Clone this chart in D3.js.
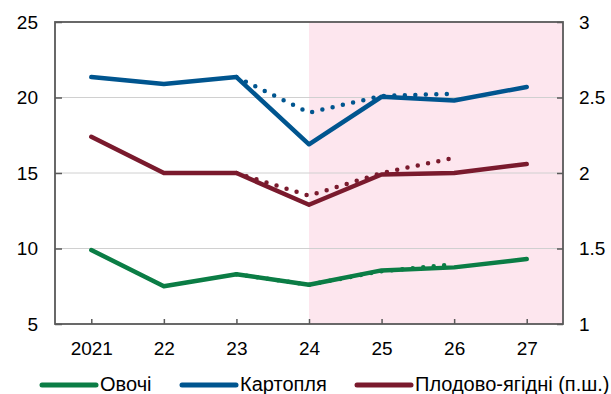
<!DOCTYPE html>
<html>
<head>
<meta charset="utf-8">
<script src="https://cdn.jsdelivr.net/npm/d3@7"></script>
<style>
body { margin: 0; background: #fff; }
svg text { font-family: "Liberation Sans", Arial, sans-serif; fill: #000; }
</style>
</head>
<body>
<svg width="611" height="394"></svg>
<script>
var years = ["2021", "22", "23", "24", "25", "26", "27"];

// left axis
var vegetables = [9.9, 7.5, 8.3, 7.6, 8.55, 8.75, 9.3];
var potatoes = [21.35, 20.9, 21.35, 16.9, 20.05, 19.8, 20.7];
// right axis (п.ш.)
var fruits = [2.24, 2.0, 2.0, 1.79, 1.99, 2.0, 2.06];

// previous forecast (dotted), years 23..26
var prevYears = ["23", "24", "25", "26"];
var vegetablesPrev = [8.3, 7.6, 8.5, 8.95];
var potatoesPrev = [21.35, 19.0, 20.1, 20.25];
var fruitsPrev = [2.0, 1.85, 2.0, 2.1];

var leftTicks = [5, 10, 15, 20, 25];
var rightTicks = [1, 1.5, 2, 2.5, 3];
var forecastFrom = "24";

var svg = d3.select("svg"),
  margin = {top: 22, right: 48, bottom: 70, left: 55},
  width = +svg.attr("width") - margin.left - margin.right,
  height = +svg.attr("height") - margin.top - margin.bottom;

var g = svg.append("g").attr("transform", "translate(" + margin.left + "," + margin.top + ")");

var x = d3.scalePoint().domain(years).range([0, width]).padding(0.5);
var yL = d3.scaleLinear().domain([5, 25]).range([height, 0]);
var yR = d3.scaleLinear().domain([1, 3]).range([height, 0]);

// forecast shading
g.append("rect")
  .attr("x", x(forecastFrom))
  .attr("y", 0)
  .attr("width", width - x(forecastFrom))
  .attr("height", height)
  .attr("fill", "#fde6ee");

// grid
g.selectAll(".grid")
  .data(leftTicks.slice(1, -1))
  .enter().append("line")
  .attr("x1", 0).attr("x2", width)
  .attr("y1", d => yL(d)).attr("y2", d => yL(d))
  .attr("stroke", "#d0d0d0").attr("stroke-width", 1);

// axes
var axisL = g.append("g").call(d3.axisLeft(yL).tickValues(leftTicks).tickSize(-7).tickPadding(17));
var axisR = g.append("g").attr("transform", "translate(" + width + ",0)")
  .call(d3.axisRight(yR).tickValues(rightTicks).tickSize(-6).tickPadding(16).tickFormat(d3.format("")));
var axisB = g.append("g").attr("transform", "translate(0," + height + ")")
  .call(d3.axisBottom(x).tickSize(-5).tickPadding(18));

[axisL, axisR, axisB].forEach(function(a) {
  a.select(".domain").remove();
  a.selectAll("line").attr("stroke", "#595959").attr("stroke-width", 1.5);
  a.selectAll("text").style("font-size", "19px").attr("fill", "#000");
});
axisR.selectAll("text").attr("text-anchor", "start");

// frame
g.append("rect")
  .attr("width", width).attr("height", height)
  .attr("fill", "none").attr("stroke", "#595959").attr("stroke-width", 1.8);

var lineL = d3.line().x((d, i) => x(years[i])).y(d => yL(d));
var lineR = d3.line().x((d, i) => x(years[i])).y(d => yR(d));
var lineLp = d3.line().x((d, i) => x(prevYears[i])).y(d => yL(d));
var lineRp = d3.line().x((d, i) => x(prevYears[i])).y(d => yR(d));

var colGreen = "#0b7d45", colBlue = "#00558f", colRed = "#7a1a2d";

function dotted(data, gen, col) {
  g.append("path").datum(data)
    .attr("d", gen).attr("fill", "none")
    .attr("stroke", col).attr("stroke-width", 4.5)
    .attr("stroke-linecap", "round")
    .attr("stroke-dasharray", "0 10.5");
}
function solid(data, gen, col) {
  g.append("path").datum(data)
    .attr("d", gen).attr("fill", "none")
    .attr("stroke", col).attr("stroke-width", 4.5)
    .attr("stroke-linejoin", "round")
    .attr("stroke-linecap", "round");
}

dotted(vegetablesPrev, lineLp, colGreen);
dotted(potatoesPrev, lineLp, colBlue);
dotted(fruitsPrev, lineRp, colRed);
solid(vegetables, lineL, colGreen);
solid(potatoes, lineL, colBlue);
solid(fruits, lineR, colRed);

// legend
var legendItems = [
  {name: "Овочі", color: colGreen, x: 42},
  {name: "Картопля", color: colBlue, x: 182},
  {name: "Плодово-ягідні (п.ш.)", color: colRed, x: 357}
];
var legend = svg.append("g").attr("transform", "translate(0,385)");
var li = legend.selectAll("g").data(legendItems).enter().append("g")
  .attr("transform", d => "translate(" + d.x + ",0)");
li.append("line")
  .attr("x1", 0).attr("x2", 54).attr("y1", 0).attr("y2", 0)
  .attr("stroke", d => d.color).attr("stroke-width", 5).attr("stroke-linecap", "round");
li.append("text")
  .attr("x", 58).attr("y", 6)
  .style("font-size", "20px")
  .text(d => d.name);
</script>
</body>
</html>
